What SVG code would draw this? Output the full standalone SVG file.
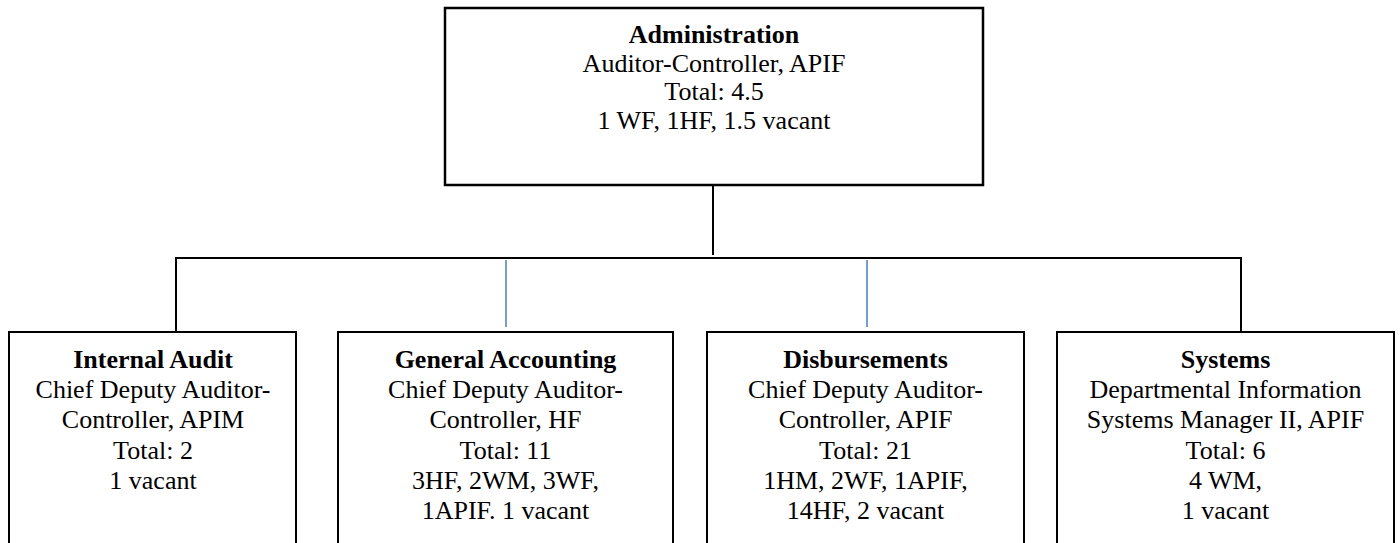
<svg xmlns="http://www.w3.org/2000/svg" width="1400" height="543" viewBox="0 0 1400 543">
<style>
.box{fill:#fff;stroke:#000;stroke-width:2}
.top{stroke-width:2.5}
.t{font-family:"Liberation Serif","Times New Roman",serif;font-size:26px;fill:#000;text-anchor:middle}
.b{font-weight:bold}
.k{fill:none;stroke:#000;stroke-width:2}
.bl{fill:none;stroke:#4a7ebb;stroke-width:1.5}
</style>
<rect width="1400" height="543" fill="#fff"/>
<g id="connectors">
<line class="k" x1="713" y1="186" x2="713" y2="255"/>
<polyline class="k" points="176,331 176,258 1241,258 1241,331"/>
<line class="bl" x1="506" y1="260" x2="506" y2="327"/>
<line class="bl" x1="867" y1="260" x2="867" y2="327"/>
</g>
<g id="administration">
<rect class="box top" x="445" y="8" width="538" height="177"/>
<text class="t b" x="714" y="43">Administration</text>
<text class="t" x="714" y="71.5">Auditor-Controller, APIF</text>
<text class="t" x="714" y="100">Total: 4.5</text>
<text class="t" x="714" y="128.5">1 WF, 1HF, 1.5 vacant</text>
</g>
<g id="internal-audit">
<rect class="box" x="9" y="332" width="287" height="230"/>
<text class="t b" x="153" y="368">Internal Audit</text>
<text class="t" x="153" y="398">Chief Deputy Auditor-</text>
<text class="t" x="153" y="428">Controller, APIM</text>
<text class="t" x="153" y="459">Total: 2</text>
<text class="t" x="153" y="489">1 vacant</text>
</g>
<g id="general-accounting">
<rect class="box" x="338" y="332" width="335" height="230"/>
<text class="t b" x="505.5" y="368">General Accounting</text>
<text class="t" x="505.5" y="398">Chief Deputy Auditor-</text>
<text class="t" x="505.5" y="428">Controller, HF</text>
<text class="t" x="505.5" y="459">Total: 11</text>
<text class="t" x="505.5" y="489">3HF, 2WM, 3WF,</text>
<text class="t" x="505.5" y="519">1APIF. 1 vacant</text>
</g>
<g id="disbursements">
<rect class="box" x="707" y="332" width="317" height="230"/>
<text class="t b" x="865.5" y="368">Disbursements</text>
<text class="t" x="865.5" y="398">Chief Deputy Auditor-</text>
<text class="t" x="865.5" y="428">Controller, APIF</text>
<text class="t" x="865.5" y="459">Total: 21</text>
<text class="t" x="865.5" y="489">1HM, 2WF, 1APIF,</text>
<text class="t" x="865.5" y="519">14HF, 2 vacant</text>
</g>
<g id="systems">
<rect class="box" x="1057" y="332" width="337" height="230"/>
<text class="t b" x="1225.5" y="368">Systems</text>
<text class="t" x="1225.5" y="398">Departmental Information</text>
<text class="t" x="1225.5" y="428">Systems Manager II, APIF</text>
<text class="t" x="1225.5" y="459">Total: 6</text>
<text class="t" x="1225.5" y="489">4 WM,</text>
<text class="t" x="1225.5" y="519">1 vacant</text>
</g>
</svg>
